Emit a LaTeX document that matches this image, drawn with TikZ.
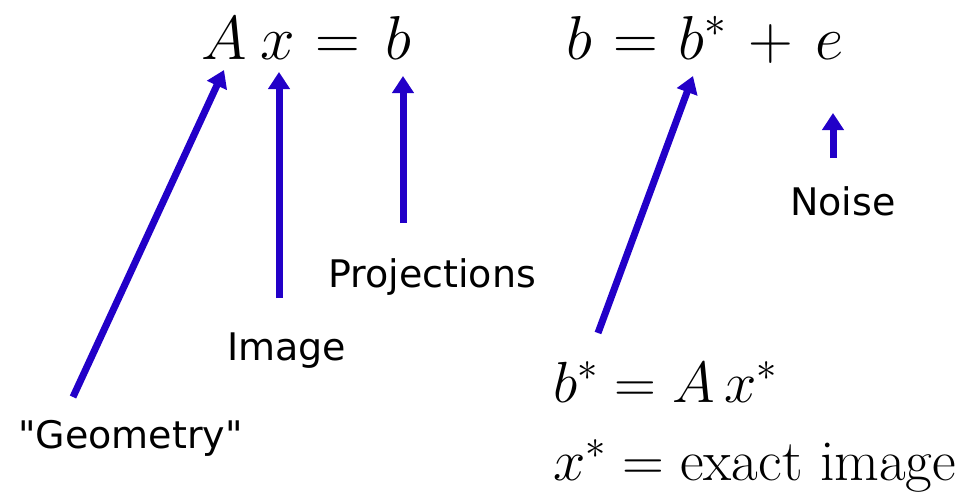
\RequirePackage{fix-cm}
\documentclass[tikz,border=0pt]{standalone}
\usepackage{fontspec}
\newfontfamily\labfont{DejaVu Sans}
\usetikzlibrary{arrows.meta}
\definecolor{arrblue}{RGB}{34,0,200}
\begin{document}
\begin{tikzpicture}[x=1pt,y=-1pt,
  sym/.style={inner sep=0pt,anchor=base west,font=\fontsize{62}{70}\selectfont},
  bot/.style={inner sep=0pt,anchor=base west,font=\fontsize{58}{66}\selectfont},
  lab/.style={inner sep=0pt,anchor=base west,font=\labfont\fontsize{38}{44}\selectfont},
  arr/.style={draw=arrblue,line width=7pt,-{Triangle[length=17pt,width=21pt]}}]
\useasboundingbox (0,0) rectangle (978,493);
% first equation
\node[sym] (A) at (201,59) {$A$};
\node[sym] (x) at (260,59) {$x$};
\node[sym] (eq1) at (315,59) {$=$};
\node[sym] (b1) at (385,59) {$b$};
% second equation
\node[sym] (b2) at (566,59) {$b$};
\node[sym] (eq2) at (613,59) {$=$};
\node[sym] (bs) at (678,59) {$b^{*}$};
\node[sym] (plus) at (748,59) {$+$};
\node[sym] (e) at (815,59) {$e$};
% bottom equations
\node[bot] (bsdef) at (553,402) {$b^{*} = A\,x^{*}$};
\node[bot] (xsdef) at (553,480) {$x^{*} = \mathrm{exact\ image}$};
% labels
\node[lab] (geom) at (18,448) {"Geometry"};
\node[lab] (img) at (227,360) {Image};
\node[lab] (proj) at (328,287) {Projections};
\node[lab] (noise) at (790,215) {Noise};
% arrow ends
\coordinate (gt) at (73,397);  \coordinate (gh) at (224,70);
\coordinate (it) at (279,298); \coordinate (ih) at (279,72);
\coordinate (pt) at (403,223); \coordinate (ph) at (403,76);
\coordinate (bt) at (598,333); \coordinate (bh) at (693,76);
\coordinate (nt) at (833,158); \coordinate (nh) at (833,113);
\draw[arr] (gt) -- (gh);
\draw[arr] (it) -- (ih);
\draw[arr] (pt) -- (ph);
\draw[arr] (bt) -- (bh);
\draw[arr] (nt) -- (nh);
\end{tikzpicture}
\end{document}
